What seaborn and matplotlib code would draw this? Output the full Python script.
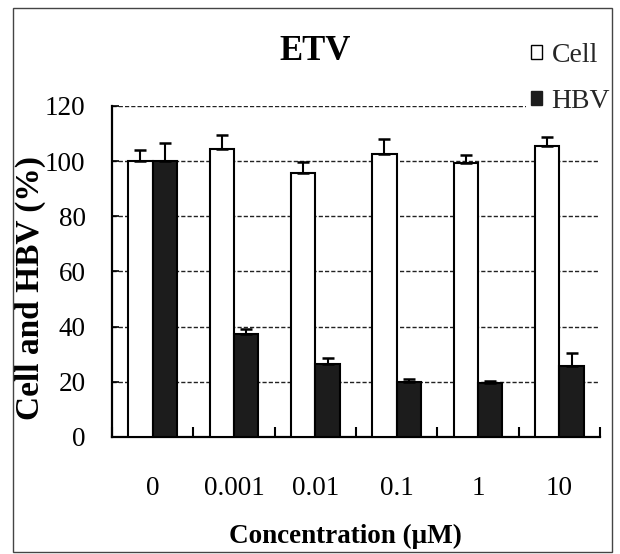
import numpy as np
import pandas as pd
import matplotlib
matplotlib.use("Agg")
import matplotlib.pyplot as plt
import seaborn as sns
from matplotlib.patches import Patch, Rectangle

# Entecavir (ETV) dose response: cell viability and HBV DNA, % of untreated control
concentrations = ["0", "0.001", "0.01", "0.1", "1", "10"]
series = ["Cell", "HBV"]
cell_mean = [100.0, 104.2, 95.7, 102.7, 99.2, 105.4]
cell_err = [4.0, 5.4, 3.8, 5.2, 3.1, 3.4]
hbv_mean = [100.0, 37.3, 26.4, 20.0, 19.4, 25.7]
hbv_err = [6.4, 1.7, 2.1, 0.9, 1.0, 4.8]
y_ticks = [0, 20, 40, 60, 80, 100, 120]

df = pd.DataFrame({
    "conc": concentrations * 2,
    "series": ["Cell"] * len(concentrations) + ["HBV"] * len(concentrations),
    "value": cell_mean + hbv_mean,
})

sns.set_theme(style="white")
plt.rcParams["font.family"] = ["Liberation Serif", "DejaVu Serif"]

fig = plt.figure(figsize=(6.2, 5.54), dpi=100)
ax = fig.add_axes([0.1806, 0.2112, 0.7871, 0.5978])

dark = "#1c1c1c"
sns.barplot(
    data=df, x="conc", y="value", hue="series",
    order=concentrations, hue_order=series,
    palette={"Cell": "white", "HBV": dark},
    width=0.6, gap=0, errorbar=None,
    edgecolor="black", linewidth=1.5,
    legend=False, ax=ax, zorder=3,
)

# one-sided (upper) error bars on top of each bar
for cont, errs in zip(ax.containers, [cell_err, hbv_err]):
    xs = [b.get_x() + b.get_width() / 2 for b in cont]
    ys = [b.get_height() for b in cont]
    ax.errorbar(xs, ys, yerr=[np.zeros(len(errs)), errs], fmt="none",
                ecolor="black", elinewidth=1.5, capsize=4.5, capthick=1.8,
                zorder=4)

ax.set_xlim(-0.5, len(concentrations) - 0.5)
ax.set_ylim(0, 120)
ax.set_yticks(y_ticks)
ax.set_yticklabels([str(t) for t in y_ticks])
ax.set_xticks(np.arange(-0.5, len(concentrations), 1.0), minor=True)

ax.set_axisbelow(True)
ax.yaxis.grid(True, linestyle=(0, (3, 1.5)), color="#222222", linewidth=1.0)
ax.xaxis.grid(False)

for side in ["top", "right"]:
    ax.spines[side].set_visible(False)
for side in ["left", "bottom"]:
    ax.spines[side].set_color("black")
    ax.spines[side].set_linewidth(1.6)

ax.tick_params(axis="both", which="both", bottom=True, left=True, colors="black")
ax.tick_params(axis="y", direction="in", length=5, width=1.2, pad=19, labelsize=19.5)
ax.tick_params(axis="x", which="major", length=0, pad=28, labelsize=19.5)
ax.tick_params(axis="x", which="minor", direction="in", length=7, width=1.5)

ax.set_xlabel("Concentration (μM)", fontsize=19.5, fontweight="bold", color="black")
ax.xaxis.label.set_va("baseline")
ax.xaxis.set_label_coords(0.4775, -0.320)
ax.set_ylabel("Cell and HBV (%)", fontsize=24, fontweight="bold", color="black")
ax.yaxis.set_label_coords(-0.135, 0.451)

ax.set_title("ETV", x=0.416, y=1.113, fontsize=25, fontweight="bold", color="black")

handles = [Patch(facecolor="white", edgecolor="black", linewidth=1.0),
           Patch(facecolor=dark, edgecolor=dark, linewidth=1.0)]
ax.legend(handles, series, loc="upper right",
          bbox_to_anchor=(0.993, 0.9326), bbox_transform=fig.transFigure,
          fontsize=20, frameon=True, facecolor="white", edgecolor="none",
          framealpha=1, fancybox=False, handlelength=0.38, handleheight=0.38,
          handletextpad=0.35, labelspacing=0.75, borderpad=0.2, borderaxespad=0)

# thin frame around the whole figure
fig.patches.append(Rectangle((13 / 620, 2 / 554), (612 - 13) / 620, (552 - 8) / 554,
                             transform=fig.transFigure, fill=False,
                             edgecolor="#444444", linewidth=1.0))

fig.savefig("out.png", dpi=100)
